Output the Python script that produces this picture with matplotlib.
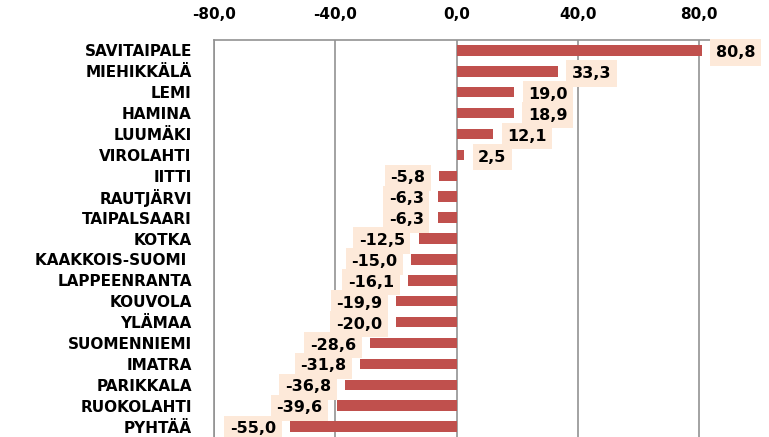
import matplotlib.pyplot as plt
from matplotlib.ticker import FuncFormatter

municipalities = ["SAVITAIPALE", "MIEHIKKÄLÄ", "LEMI", "HAMINA", "LUUMÄKI", "VIROLAHTI",
                  "IITTI", "RAUTJÄRVI", "TAIPALSAARI", "KOTKA", "KAAKKOIS-SUOMI ",
                  "LAPPEENRANTA", "KOUVOLA", "YLÄMAA", "SUOMENNIEMI", "IMATRA",
                  "PARIKKALA", "RUOKOLAHTI", "PYHTÄÄ"]
change = [80.8, 33.3, 19.0, 18.9, 12.1, 2.5, -5.8, -6.3, -6.3, -12.5, -15.0,
          -16.1, -19.9, -20.0, -28.6, -31.8, -36.8, -39.6, -55.0]
ticks = [-80, -40, 0, 40, 80]

bar_color = "#C0504D"
box_color = "#FDE9D9"
grid_color = "#929292"

fig = plt.figure(figsize=(7.69, 4.37), dpi=100)
ax = fig.add_axes([214 / 769, 0.0, 546 / 769, 1 - 40 / 437])

y = list(range(len(municipalities)))
ax.barh(y, change, height=0.5, color=bar_color, zorder=3)

# value labels with peach boxes
for yi, v in zip(y, change):
    txt = f"{v:.1f}".replace(".", ",")
    off = 10 if v >= 0 else -10
    ax.annotate(txt, xy=(v, yi), xytext=(off, -1.5), textcoords="offset points",
                ha="left" if v >= 0 else "right", va="center",
                fontsize=11.5, fontweight="bold", color="black", zorder=5,
                bbox=dict(boxstyle="square,pad=0.35", fc=box_color, ec="none"))

ax.set_xlim(-80, 100)
ax.set_ylim(len(municipalities) - 0.5, -0.5)
ax.set_xticks(ticks)
ax.xaxis.set_major_formatter(FuncFormatter(lambda v, p: f"{v:.1f}".replace(".", ",")))
ax.xaxis.tick_top()
ax.tick_params(axis="x", length=0, pad=13, labelsize=11)
ax.set_yticks(y)
ax.set_yticklabels(municipalities)
ax.tick_params(axis="y", length=0, pad=16, labelsize=11)
for lbl in ax.get_xticklabels() + ax.get_yticklabels():
    lbl.set_fontweight("bold")

ax.grid(axis="x", color=grid_color, linewidth=1.2, zorder=0)
for side in ["right", "bottom"]:
    ax.spines[side].set_visible(False)
for side in ["top", "left"]:
    ax.spines[side].set_color(grid_color)
    ax.spines[side].set_linewidth(1.2)

fig.savefig("out.png", dpi=100)
